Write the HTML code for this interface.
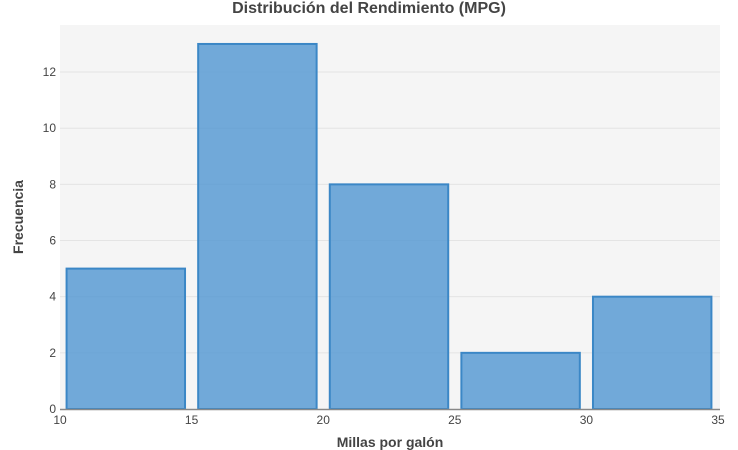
<!DOCTYPE html>
<html><head><meta charset="utf-8"><style>
body{margin:0;background:#fff;}
svg{display:block;font-family:"Liberation Sans","DejaVu Sans",sans-serif;}
</style></head><body>
<svg id="chart" width="738" height="450">
<rect x="60" y="25" width="660" height="384" fill="#f5f5f5"/>
<g id="grid"></g>
<g id="bars"></g>
<g id="axes"></g>
<text x="369" y="13" text-anchor="middle" font-size="16" font-weight="bold" fill="#444">Distribución del Rendimiento (MPG)</text>
<text x="390" y="447" text-anchor="middle" font-size="14" font-weight="bold" fill="#444">Millas por galón</text>
<text transform="translate(23,217) rotate(-90)" text-anchor="middle" font-size="14" font-weight="bold" fill="#444">Frecuencia</text>
</svg>
<script>
const binStarts=[10,15,20,25,30];
const binSize=5;
const counts=[5,13,8,2,4];
const xTicks=[10,15,20,25,30,35];
const yTicks=[0,2,4,6,8,10,12];
const NS="http://www.w3.org/2000/svg";
const x=v=>60+(v-10)*(658/25);
const y=v=>409-v*28.08;
function mk(tag,attrs,parent,text){const e=document.createElementNS(NS,tag);for(const k in attrs)e.setAttribute(k,attrs[k]);if(text!==undefined)e.textContent=text;document.getElementById(parent).appendChild(e);return e;}
yTicks.forEach(t=>{
 if(t>0){const g=mk('line',{x1:60,x2:720,y1:y(t),y2:y(t),stroke:'#e4e4e4','stroke-width':1},'grid');
 
 }
 const l=mk('text',{x:56,y:y(t)+4,'text-anchor':'end','font-size':12,fill:'#444'},'axes',String(t));
 
 
});
xTicks.forEach(t=>{
 const l=mk('text',{x:x(t),y:424,'text-anchor':'middle','font-size':12,fill:'#444'},'axes',String(t));
 
 
});
const ax=mk('line',{x1:60,x2:720,y1:409.5,y2:409.5,stroke:'#888','stroke-width':1.5},'axes');


binStarts.forEach((s,i)=>{
 const gap=0.25*(binSize/5);
 const x0=x(s+gap),x1=x(s+binSize-gap);
 const b=mk('rect',{x:x0,y:y(counts[i]),width:x1-x0,height:y(0)-y(counts[i]),fill:'rgba(80,150,210,0.8)',stroke:'#3b87c6','stroke-width':2},'bars');
 
 
});
</script>
</body></html>
